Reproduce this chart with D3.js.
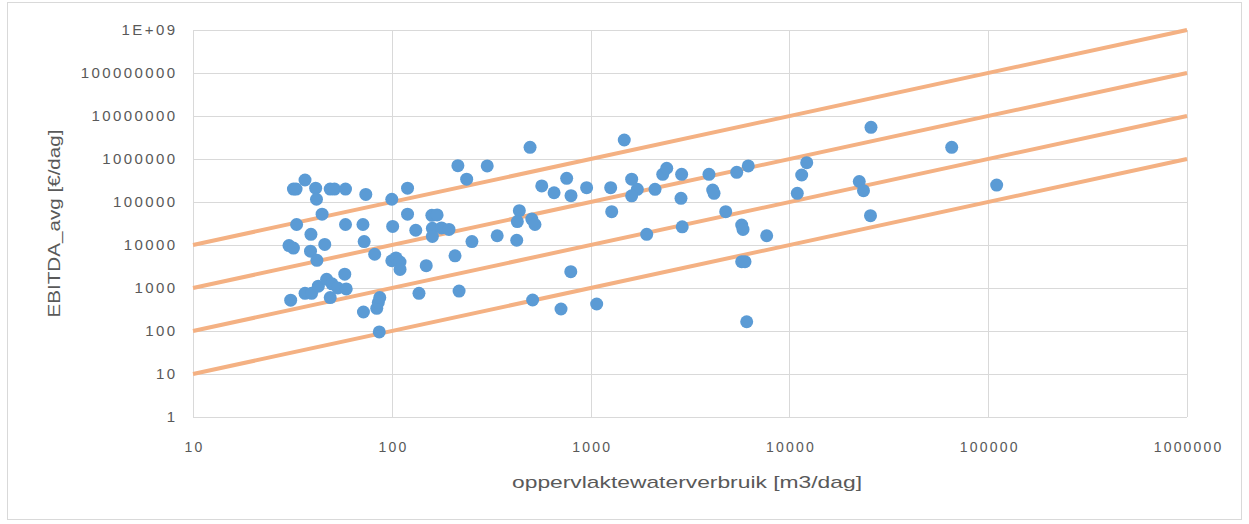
<!DOCTYPE html>
<html>
<head>
<meta charset="utf-8">
<script src="https://cdn.jsdelivr.net/npm/d3@7"></script>
<style>
  html, body { margin: 0; padding: 0; background: #fff; }
  svg { display: block; }
  text { font-family: "Liberation Sans", Arial, sans-serif; fill: #595959; }
</style>
</head>
<body>
<svg id="chart" width="1249" height="524"></svg>
<script>
// ---- data ----
const xTickValues = [10, 100, 1000, 10000, 100000, 1000000];
const xTickLabels = ["10", "100", "1000", "10000", "100000", "1000000"];
const yTickValues = [1, 10, 100, 1000, 10000, 100000, 1000000, 10000000, 100000000, 1000000000];
const yTickLabels = ["1", "10", "100", "1000", "10000", "100000", "1000000", "10000000", "100000000", "1E+09"];

// surface water use [m3/dag]
const waterUse = [
  32, 33, 36.6, 41.4, 41.8, 49, 51.5, 58.5, 74, 100, 120,
  33.2, 44.6, 58.5, 71.6, 101, 39.2, 30.4, 32, 46, 72.6, 39, 42, 82,
  100, 105, 110, 110,
  31, 36.6, 39.5, 42.7, 47, 50, 49, 53.5, 58, 59, 72, 84, 85.5, 87, 86.5,
  120, 132, 137, 149, 159, 169, 160, 178, 194, 160, 208, 215, 238, 218, 253,
  302, 339, 425, 438, 428, 496, 506, 525, 511, 568, 655, 758, 797, 710, 795,
  955, 1073, 1262, 1277, 1477, 1609, 1718, 1609, 1915, 2109, 2306, 2415,
  2870, 2849, 2890, 3940, 4113, 4178, 4782, 5433, 6210, 5755, 5844, 5755, 5980,
  6098, 7688, 10958, 11530, 12220, 22460, 23590, 25580, 25730, 65530, 110300
];
// EBITDA_avg [€/dag]
const ebitda = [
  200000, 200000, 325000, 210000, 116000, 200000, 200000, 200000, 150000, 116000, 210000,
  30000, 52000, 30000, 30000, 27000, 17700, 9700, 8500, 10300, 12000, 7200, 4400, 6100,
  4300, 5000, 4000, 2700,
  520, 750, 750, 1100, 1600, 1250, 600, 1000, 2100, 950, 277, 337, 460, 600, 95,
  52000, 22000, 750, 3300, 49000, 50000, 24500, 25000, 23000, 15800, 5600, 700000, 340000, 850, 12000,
  690000, 16400, 12900, 63000, 35000, 1870000, 40000, 30000, 526, 236000, 164000, 356000, 140000, 325, 2400,
  215000, 425, 215000, 59500, 2770000, 340000, 197000, 139000, 17700, 197000, 440000, 610000,
  440000, 122000, 26500, 440000, 190000, 159000, 59500, 490000, 690000, 29000, 23000, 4100, 4100,
  164, 16400, 159000, 425000, 820000, 300000, 183000, 48000, 5460000, 1870000, 248000
];

// reference lines y = factor * x
const lineFactors = [1000, 100, 10, 1];
const lineXRange = [10, 1000000];

// ---- layout ----
const W = 1249, H = 524;
const plot = { left: 193, right: 1187, top: 30, bottom: 417 };

const svg = d3.select("#chart");

// outer border
svg.append("rect")
  .attr("x", 7.5).attr("y", 2.5)
  .attr("width", 1234).attr("height", 517)
  .attr("fill", "#fff").attr("stroke", "#d9d9d9").attr("stroke-width", 1);

const x = d3.scaleLog().domain([10, 1000000]).range([plot.left, plot.right]);
const y = d3.scaleLog().domain([1, 1000000000]).range([plot.bottom, plot.top]);

// gridlines
const grid = svg.append("g");
grid.selectAll("line.h").data(yTickValues).join("line")
  .attr("x1", plot.left).attr("x2", plot.right)
  .attr("y1", d => Math.round(y(d)) + 0.5).attr("y2", d => Math.round(y(d)) + 0.5)
  .attr("stroke", "#d9d9d9").attr("stroke-width", 1);
grid.selectAll("line.v").data(xTickValues).join("line")
  .attr("y1", plot.top).attr("y2", plot.bottom)
  .attr("x1", d => Math.round(x(d)) + 0.5).attr("x2", d => Math.round(x(d)) + 0.5)
  .attr("stroke", "#d9d9d9").attr("stroke-width", 1);

// axes (labels only)
const yAxis = d3.axisLeft(y).tickValues(yTickValues)
  .tickFormat((d, i) => yTickLabels[i]).tickSize(0).tickPadding(0);
const gy = svg.append("g").attr("transform", `translate(${plot.left - 18},0)`).call(yAxis);
gy.select(".domain").remove();
gy.selectAll("text")
  .attr("font-size", 15).attr("letter-spacing", "2.4px")
  .attr("dx", "2.4px").attr("fill", "#595959")
  .style("font-family", "'Liberation Sans', Arial, sans-serif");

const xAxis = d3.axisBottom(x).tickValues(xTickValues)
  .tickFormat((d, i) => xTickLabels[i]).tickSize(0).tickPadding(0);
const gx = svg.append("g").attr("transform", `translate(0,${plot.bottom + 25})`).call(xAxis);
gx.select(".domain").remove();
gx.selectAll("text")
  .attr("font-size", 14).attr("letter-spacing", "2.2px")
  .attr("dx", "1.1px").attr("fill", "#595959")
  .style("font-family", "'Liberation Sans', Arial, sans-serif");

// reference lines
const line = d3.line().x(d => x(d[0])).y(d => y(d[1]));
svg.append("g").selectAll("path").data(lineFactors).join("path")
  .attr("d", f => line(lineXRange.map(v => [v, v * f])))
  .attr("fill", "none").attr("stroke", "#f4b183").attr("stroke-width", 4)
  .attr("stroke-linecap", "butt");

// points
svg.append("g").selectAll("circle").data(waterUse).join("circle")
  .attr("cx", (d, i) => x(d))
  .attr("cy", (d, i) => y(ebitda[i]))
  .attr("r", 6.5)
  .attr("fill", "#5b9bd5");

// axis titles
svg.append("text")
  .attr("x", (plot.left + plot.right) / 2 - 3).attr("y", 488)
  .attr("text-anchor", "middle").attr("font-size", 17)
  .attr("textLength", 350).attr("lengthAdjust", "spacingAndGlyphs")
  .text("oppervlaktewaterverbruik [m3/dag]");

svg.append("text")
  .attr("transform", `translate(60,${(plot.top + plot.bottom) / 2}) rotate(-90)`)
  .attr("text-anchor", "middle").attr("font-size", 17)
  .attr("textLength", 188).attr("lengthAdjust", "spacingAndGlyphs")
  .text("EBITDA_avg [€/dag]");
</script>
</body>
</html>
